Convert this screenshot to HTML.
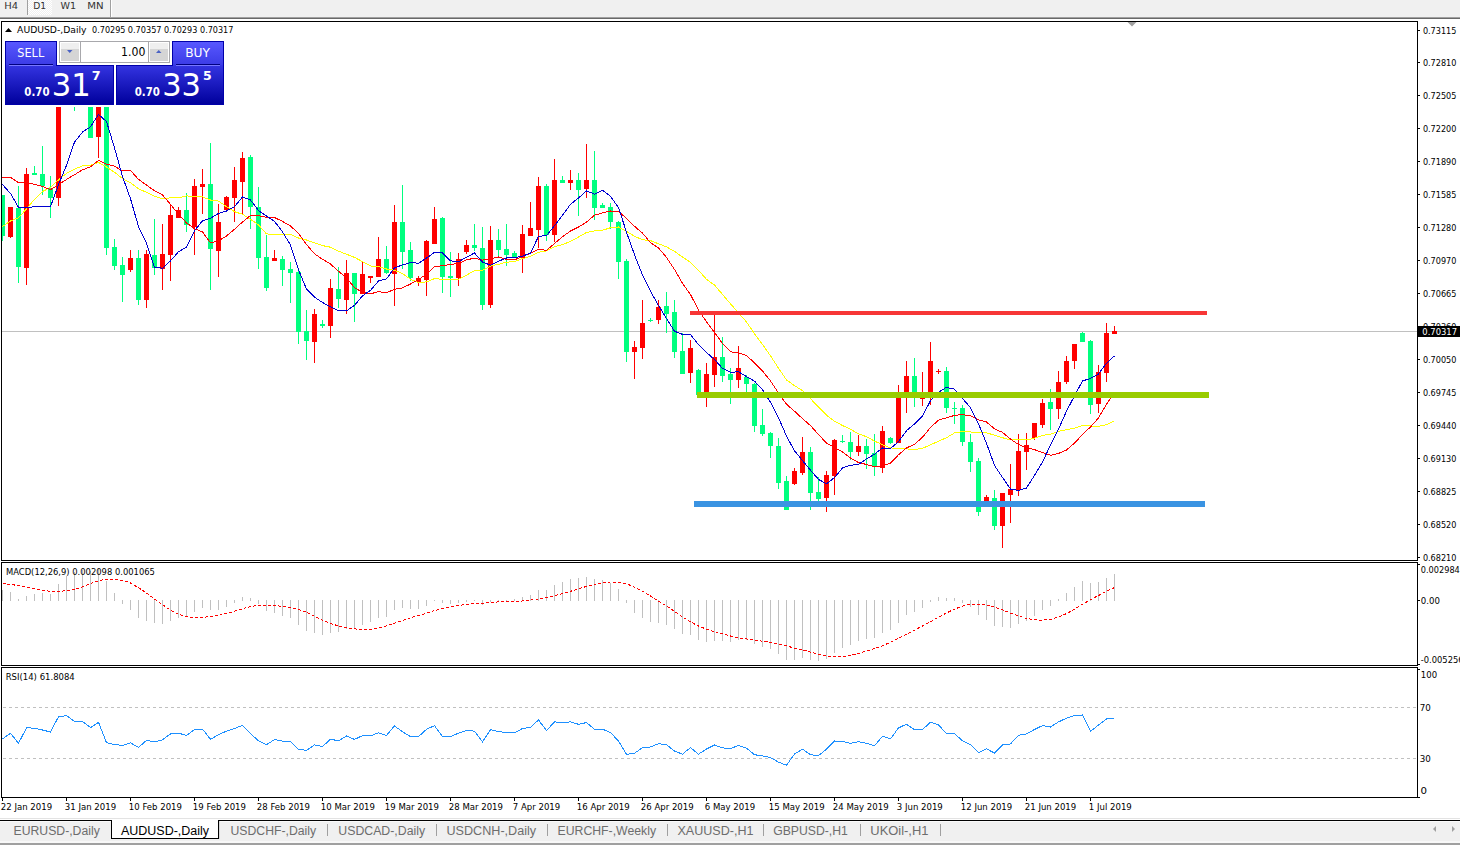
<!DOCTYPE html>
<html><head><meta charset="utf-8"><style>
html,body{margin:0;padding:0;}
body{width:1460px;height:845px;overflow:hidden;background:#f0f0f0;position:relative;font-family:'Liberation Sans',Arial,sans-serif;}
svg{position:absolute;left:0;top:0;}
text{font-family:'Liberation Sans',Arial,sans-serif;white-space:pre;}
</style></head><body>
<svg width="1460" height="845" viewBox="0 0 1460 845">
<defs>
<pattern id="dith" width="2" height="2" patternUnits="userSpaceOnUse"><rect width="2" height="2" fill="#f0f0f0"/><rect width="1" height="1" fill="#ffffff"/><rect x="1" y="1" width="1" height="1" fill="#ffffff"/></pattern>
<linearGradient id="gTop" x1="0" y1="0" x2="0" y2="1"><stop offset="0" stop-color="#5858ff"/><stop offset="1" stop-color="#3b3be6"/></linearGradient>
<linearGradient id="gBot" x1="0" y1="0" x2="0" y2="1"><stop offset="0" stop-color="#3333e0"/><stop offset="1" stop-color="#00009c"/></linearGradient>
<linearGradient id="gBtn" x1="0" y1="0" x2="0" y2="1"><stop offset="0" stop-color="#f2f2f2"/><stop offset="0.45" stop-color="#ebebeb"/><stop offset="0.5" stop-color="#dddddd"/><stop offset="1" stop-color="#d0d0d0"/></linearGradient>
<clipPath id="cMain"><rect x="2" y="22" width="1415" height="538"/></clipPath>
<clipPath id="cMacd"><rect x="2" y="563" width="1415" height="102"/></clipPath>
<clipPath id="cRsi"><rect x="2" y="668" width="1415" height="129"/></clipPath>
</defs>
<!-- toolbar -->
<rect x="28" y="0" width="24" height="15" fill="url(#dith)"/>
<rect x="27" y="0" width="1" height="15" fill="#a0a0a0"/>
<rect x="110" y="0" width="1" height="17" fill="#a0a0a0"/><rect x="111" y="0" width="1" height="17" fill="#ffffff"/>
<text x="4.3" y="9" font-size="9.5" fill="#333" font-weight="normal" style="font-family:'DejaVu Sans',sans-serif" textLength="13.8" lengthAdjust="spacingAndGlyphs">H4</text><text x="33.2" y="9" font-size="9.5" fill="#333" font-weight="normal" style="font-family:'DejaVu Sans',sans-serif" textLength="12.9" lengthAdjust="spacingAndGlyphs">D1</text><text x="60.6" y="9" font-size="9.5" fill="#333" font-weight="normal" style="font-family:'DejaVu Sans',sans-serif" textLength="15.6" lengthAdjust="spacingAndGlyphs">W1</text><text x="87.2" y="9" font-size="9.5" fill="#333" font-weight="normal" style="font-family:'DejaVu Sans',sans-serif" textLength="16.4" lengthAdjust="spacingAndGlyphs">MN</text>
<rect x="0" y="17" width="1460" height="1" fill="#a0a0a0"/>
<rect x="0" y="18" width="1460" height="1" fill="#696969"/>
<rect x="0" y="19" width="1460" height="799" fill="#ffffff"/>
<!-- window borders -->
<rect x="1.5" y="21.5" width="1416" height="539" fill="none" stroke="#000" stroke-width="1"/>
<rect x="1.5" y="562.5" width="1416" height="103" fill="none" stroke="#000" stroke-width="1"/>
<rect x="1.5" y="667.5" width="1416" height="130" fill="none" stroke="#000" stroke-width="1"/>
<!-- main chart -->
<g clip-path="url(#cMain)">
<rect x="2" y="331" width="1415" height="1" fill="#c0c0c0"/>
<g shape-rendering="crispEdges"><rect x="2" y="195" width="1" height="46" fill="#00ff7f"/><rect x="0" y="195" width="5" height="41" fill="#00ff7f"/><rect x="10" y="207" width="1" height="31" fill="#ff0000"/><rect x="8" y="207" width="5" height="30" fill="#ff0000"/><rect x="18" y="186" width="1" height="97" fill="#00ff7f"/><rect x="16" y="208" width="5" height="59" fill="#00ff7f"/><rect x="26" y="168" width="1" height="117" fill="#ff0000"/><rect x="24" y="174" width="5" height="94" fill="#ff0000"/><rect x="34" y="166" width="1" height="9" fill="#00ff7f"/><rect x="32" y="173" width="5" height="2" fill="#00ff7f"/><rect x="42" y="146" width="1" height="49" fill="#00ff7f"/><rect x="40" y="174" width="5" height="12" fill="#00ff7f"/><rect x="50" y="176" width="1" height="42" fill="#00ff7f"/><rect x="48" y="188" width="5" height="10" fill="#00ff7f"/><rect x="58" y="75" width="1" height="131" fill="#ff0000"/><rect x="56" y="83" width="5" height="115" fill="#ff0000"/><rect x="66" y="67" width="1" height="23" fill="#ff0000"/><rect x="64" y="73" width="5" height="10" fill="#ff0000"/><rect x="74" y="66" width="1" height="45" fill="#00ff7f"/><rect x="72" y="73" width="5" height="31" fill="#00ff7f"/><rect x="82" y="96" width="1" height="8" fill="#ff0000"/><rect x="80" y="100" width="5" height="4" fill="#ff0000"/><rect x="90" y="95" width="1" height="43" fill="#00ff7f"/><rect x="88" y="100" width="5" height="38" fill="#00ff7f"/><rect x="98" y="90" width="1" height="68" fill="#ff0000"/><rect x="96" y="99" width="5" height="38" fill="#ff0000"/><rect x="106" y="92" width="1" height="163" fill="#00ff7f"/><rect x="104" y="99" width="5" height="149" fill="#00ff7f"/><rect x="114" y="239" width="1" height="31" fill="#00ff7f"/><rect x="112" y="247" width="5" height="19" fill="#00ff7f"/><rect x="122" y="257" width="1" height="45" fill="#00ff7f"/><rect x="120" y="265" width="5" height="10" fill="#00ff7f"/><rect x="130" y="250" width="1" height="22" fill="#ff0000"/><rect x="128" y="258" width="5" height="12" fill="#ff0000"/><rect x="138" y="250" width="1" height="55" fill="#00ff7f"/><rect x="136" y="258" width="5" height="42" fill="#00ff7f"/><rect x="146" y="250" width="1" height="58" fill="#ff0000"/><rect x="144" y="254" width="5" height="46" fill="#ff0000"/><rect x="154" y="219" width="1" height="56" fill="#00ff7f"/><rect x="152" y="255" width="5" height="13" fill="#00ff7f"/><rect x="162" y="224" width="1" height="66" fill="#ff0000"/><rect x="160" y="254" width="5" height="15" fill="#ff0000"/><rect x="170" y="205" width="1" height="76" fill="#ff0000"/><rect x="168" y="215" width="5" height="40" fill="#ff0000"/><rect x="178" y="207" width="1" height="11" fill="#ff0000"/><rect x="176" y="210" width="5" height="8" fill="#ff0000"/><rect x="186" y="193" width="1" height="39" fill="#00ff7f"/><rect x="184" y="210" width="5" height="15" fill="#00ff7f"/><rect x="194" y="179" width="1" height="76" fill="#ff0000"/><rect x="192" y="186" width="5" height="41" fill="#ff0000"/><rect x="202" y="169" width="1" height="45" fill="#ff0000"/><rect x="200" y="184" width="5" height="3" fill="#ff0000"/><rect x="210" y="143" width="1" height="147" fill="#00ff7f"/><rect x="208" y="184" width="5" height="65" fill="#00ff7f"/><rect x="218" y="204" width="1" height="73" fill="#ff0000"/><rect x="216" y="222" width="5" height="29" fill="#ff0000"/><rect x="226" y="196" width="1" height="16" fill="#ff0000"/><rect x="224" y="197" width="5" height="13" fill="#ff0000"/><rect x="234" y="167" width="1" height="55" fill="#ff0000"/><rect x="232" y="180" width="5" height="18" fill="#ff0000"/><rect x="242" y="152" width="1" height="62" fill="#ff0000"/><rect x="240" y="158" width="5" height="24" fill="#ff0000"/><rect x="250" y="155" width="1" height="74" fill="#00ff7f"/><rect x="248" y="157" width="5" height="50" fill="#00ff7f"/><rect x="258" y="187" width="1" height="82" fill="#00ff7f"/><rect x="256" y="207" width="5" height="51" fill="#00ff7f"/><rect x="266" y="235" width="1" height="56" fill="#00ff7f"/><rect x="264" y="257" width="5" height="31" fill="#00ff7f"/><rect x="274" y="250" width="1" height="11" fill="#ff0000"/><rect x="272" y="258" width="5" height="3" fill="#ff0000"/><rect x="282" y="256" width="1" height="30" fill="#00ff7f"/><rect x="280" y="259" width="5" height="11" fill="#00ff7f"/><rect x="290" y="262" width="1" height="41" fill="#00ff7f"/><rect x="288" y="269" width="5" height="4" fill="#00ff7f"/><rect x="298" y="271" width="1" height="73" fill="#00ff7f"/><rect x="296" y="272" width="5" height="60" fill="#00ff7f"/><rect x="306" y="310" width="1" height="50" fill="#00ff7f"/><rect x="304" y="331" width="5" height="10" fill="#00ff7f"/><rect x="314" y="309" width="1" height="54" fill="#ff0000"/><rect x="312" y="314" width="5" height="28" fill="#ff0000"/><rect x="322" y="320" width="1" height="8" fill="#00ff7f"/><rect x="320" y="324" width="5" height="2" fill="#00ff7f"/><rect x="330" y="279" width="1" height="59" fill="#ff0000"/><rect x="328" y="288" width="5" height="38" fill="#ff0000"/><rect x="338" y="267" width="1" height="41" fill="#00ff7f"/><rect x="336" y="289" width="5" height="10" fill="#00ff7f"/><rect x="346" y="260" width="1" height="54" fill="#ff0000"/><rect x="344" y="273" width="5" height="27" fill="#ff0000"/><rect x="354" y="273" width="1" height="49" fill="#00ff7f"/><rect x="352" y="273" width="5" height="21" fill="#00ff7f"/><rect x="362" y="262" width="1" height="32" fill="#ff0000"/><rect x="360" y="274" width="5" height="20" fill="#ff0000"/><rect x="370" y="276" width="1" height="7" fill="#ff0000"/><rect x="368" y="276" width="5" height="2" fill="#ff0000"/><rect x="378" y="237" width="1" height="40" fill="#ff0000"/><rect x="376" y="259" width="5" height="18" fill="#ff0000"/><rect x="386" y="246" width="1" height="28" fill="#00ff7f"/><rect x="384" y="259" width="5" height="14" fill="#00ff7f"/><rect x="394" y="205" width="1" height="101" fill="#ff0000"/><rect x="392" y="222" width="5" height="52" fill="#ff0000"/><rect x="402" y="185" width="1" height="84" fill="#00ff7f"/><rect x="400" y="222" width="5" height="30" fill="#00ff7f"/><rect x="410" y="242" width="1" height="39" fill="#00ff7f"/><rect x="408" y="250" width="5" height="28" fill="#00ff7f"/><rect x="418" y="276" width="1" height="10" fill="#ff0000"/><rect x="416" y="278" width="5" height="4" fill="#ff0000"/><rect x="426" y="240" width="1" height="56" fill="#ff0000"/><rect x="424" y="241" width="5" height="39" fill="#ff0000"/><rect x="434" y="207" width="1" height="37" fill="#ff0000"/><rect x="432" y="219" width="5" height="25" fill="#ff0000"/><rect x="442" y="217" width="1" height="76" fill="#00ff7f"/><rect x="440" y="218" width="5" height="59" fill="#00ff7f"/><rect x="450" y="252" width="1" height="45" fill="#00ff7f"/><rect x="448" y="276" width="5" height="2" fill="#00ff7f"/><rect x="458" y="253" width="1" height="33" fill="#ff0000"/><rect x="456" y="259" width="5" height="19" fill="#ff0000"/><rect x="466" y="240" width="1" height="14" fill="#ff0000"/><rect x="464" y="245" width="5" height="7" fill="#ff0000"/><rect x="474" y="224" width="1" height="27" fill="#00ff7f"/><rect x="472" y="245" width="5" height="3" fill="#00ff7f"/><rect x="482" y="227" width="1" height="83" fill="#00ff7f"/><rect x="480" y="248" width="5" height="57" fill="#00ff7f"/><rect x="490" y="226" width="1" height="82" fill="#ff0000"/><rect x="488" y="240" width="5" height="65" fill="#ff0000"/><rect x="498" y="229" width="1" height="29" fill="#00ff7f"/><rect x="496" y="240" width="5" height="10" fill="#00ff7f"/><rect x="506" y="224" width="1" height="42" fill="#00ff7f"/><rect x="504" y="249" width="5" height="6" fill="#00ff7f"/><rect x="514" y="251" width="1" height="7" fill="#00ff7f"/><rect x="512" y="253" width="5" height="4" fill="#00ff7f"/><rect x="522" y="225" width="1" height="48" fill="#ff0000"/><rect x="520" y="234" width="5" height="24" fill="#ff0000"/><rect x="530" y="202" width="1" height="34" fill="#ff0000"/><rect x="528" y="228" width="5" height="8" fill="#ff0000"/><rect x="538" y="177" width="1" height="71" fill="#ff0000"/><rect x="536" y="186" width="5" height="44" fill="#ff0000"/><rect x="546" y="184" width="1" height="57" fill="#00ff7f"/><rect x="544" y="186" width="5" height="49" fill="#00ff7f"/><rect x="554" y="159" width="1" height="83" fill="#ff0000"/><rect x="552" y="180" width="5" height="55" fill="#ff0000"/><rect x="562" y="176" width="1" height="7" fill="#00ff7f"/><rect x="560" y="180" width="5" height="3" fill="#00ff7f"/><rect x="570" y="170" width="1" height="20" fill="#ff0000"/><rect x="568" y="180" width="5" height="3" fill="#ff0000"/><rect x="578" y="173" width="1" height="43" fill="#00ff7f"/><rect x="576" y="180" width="5" height="10" fill="#00ff7f"/><rect x="586" y="144" width="1" height="54" fill="#ff0000"/><rect x="584" y="180" width="5" height="9" fill="#ff0000"/><rect x="594" y="151" width="1" height="69" fill="#00ff7f"/><rect x="592" y="180" width="5" height="28" fill="#00ff7f"/><rect x="602" y="203" width="1" height="5" fill="#00ff7f"/><rect x="600" y="205" width="5" height="3" fill="#00ff7f"/><rect x="610" y="203" width="1" height="26" fill="#00ff7f"/><rect x="608" y="207" width="5" height="15" fill="#00ff7f"/><rect x="618" y="221" width="1" height="58" fill="#00ff7f"/><rect x="616" y="222" width="5" height="40" fill="#00ff7f"/><rect x="626" y="259" width="1" height="103" fill="#00ff7f"/><rect x="624" y="261" width="5" height="91" fill="#00ff7f"/><rect x="634" y="341" width="1" height="38" fill="#ff0000"/><rect x="632" y="347" width="5" height="5" fill="#ff0000"/><rect x="642" y="300" width="1" height="59" fill="#ff0000"/><rect x="640" y="323" width="5" height="25" fill="#ff0000"/><rect x="650" y="318" width="1" height="4" fill="#00ff7f"/><rect x="648" y="320" width="5" height="1" fill="#00ff7f"/><rect x="658" y="300" width="1" height="24" fill="#ff0000"/><rect x="656" y="307" width="5" height="13" fill="#ff0000"/><rect x="666" y="292" width="1" height="41" fill="#00ff7f"/><rect x="664" y="306" width="5" height="8" fill="#00ff7f"/><rect x="674" y="300" width="1" height="58" fill="#00ff7f"/><rect x="672" y="312" width="5" height="40" fill="#00ff7f"/><rect x="682" y="333" width="1" height="41" fill="#00ff7f"/><rect x="680" y="351" width="5" height="23" fill="#00ff7f"/><rect x="690" y="340" width="1" height="43" fill="#ff0000"/><rect x="688" y="348" width="5" height="25" fill="#ff0000"/><rect x="698" y="369" width="1" height="26" fill="#00ff7f"/><rect x="696" y="370" width="5" height="25" fill="#00ff7f"/><rect x="706" y="363" width="1" height="44" fill="#ff0000"/><rect x="704" y="374" width="5" height="18" fill="#ff0000"/><rect x="714" y="312" width="1" height="75" fill="#ff0000"/><rect x="712" y="357" width="5" height="18" fill="#ff0000"/><rect x="722" y="337" width="1" height="45" fill="#00ff7f"/><rect x="720" y="357" width="5" height="19" fill="#00ff7f"/><rect x="730" y="368" width="1" height="36" fill="#00ff7f"/><rect x="728" y="374" width="5" height="6" fill="#00ff7f"/><rect x="738" y="346" width="1" height="42" fill="#ff0000"/><rect x="736" y="368" width="5" height="12" fill="#ff0000"/><rect x="746" y="375" width="1" height="17" fill="#00ff7f"/><rect x="744" y="377" width="5" height="7" fill="#00ff7f"/><rect x="754" y="383" width="1" height="49" fill="#00ff7f"/><rect x="752" y="384" width="5" height="42" fill="#00ff7f"/><rect x="762" y="409" width="1" height="27" fill="#00ff7f"/><rect x="760" y="425" width="5" height="9" fill="#00ff7f"/><rect x="770" y="432" width="1" height="26" fill="#00ff7f"/><rect x="768" y="433" width="5" height="13" fill="#00ff7f"/><rect x="778" y="438" width="1" height="51" fill="#00ff7f"/><rect x="776" y="446" width="5" height="37" fill="#00ff7f"/><rect x="786" y="476" width="1" height="34" fill="#00ff7f"/><rect x="784" y="481" width="5" height="29" fill="#00ff7f"/><rect x="794" y="468" width="1" height="17" fill="#ff0000"/><rect x="792" y="471" width="5" height="13" fill="#ff0000"/><rect x="802" y="437" width="1" height="38" fill="#ff0000"/><rect x="800" y="452" width="5" height="21" fill="#ff0000"/><rect x="810" y="447" width="1" height="63" fill="#00ff7f"/><rect x="808" y="452" width="5" height="41" fill="#00ff7f"/><rect x="818" y="477" width="1" height="24" fill="#00ff7f"/><rect x="816" y="492" width="5" height="7" fill="#00ff7f"/><rect x="826" y="471" width="1" height="41" fill="#ff0000"/><rect x="824" y="475" width="5" height="23" fill="#ff0000"/><rect x="834" y="439" width="1" height="56" fill="#ff0000"/><rect x="832" y="440" width="5" height="36" fill="#ff0000"/><rect x="842" y="435" width="1" height="8" fill="#00ff7f"/><rect x="840" y="441" width="5" height="1" fill="#00ff7f"/><rect x="850" y="432" width="1" height="28" fill="#00ff7f"/><rect x="848" y="442" width="5" height="10" fill="#00ff7f"/><rect x="858" y="435" width="1" height="21" fill="#ff0000"/><rect x="856" y="446" width="5" height="6" fill="#ff0000"/><rect x="866" y="439" width="1" height="30" fill="#00ff7f"/><rect x="864" y="446" width="5" height="8" fill="#00ff7f"/><rect x="874" y="434" width="1" height="42" fill="#00ff7f"/><rect x="872" y="453" width="5" height="13" fill="#00ff7f"/><rect x="882" y="426" width="1" height="47" fill="#ff0000"/><rect x="880" y="431" width="5" height="37" fill="#ff0000"/><rect x="890" y="437" width="1" height="7" fill="#00ff7f"/><rect x="888" y="438" width="5" height="5" fill="#00ff7f"/><rect x="898" y="385" width="1" height="58" fill="#ff0000"/><rect x="896" y="395" width="5" height="48" fill="#ff0000"/><rect x="906" y="361" width="1" height="52" fill="#ff0000"/><rect x="904" y="376" width="5" height="22" fill="#ff0000"/><rect x="914" y="358" width="1" height="49" fill="#00ff7f"/><rect x="912" y="376" width="5" height="22" fill="#00ff7f"/><rect x="922" y="372" width="1" height="34" fill="#ff0000"/><rect x="920" y="398" width="5" height="1" fill="#ff0000"/><rect x="930" y="342" width="1" height="63" fill="#ff0000"/><rect x="928" y="361" width="5" height="37" fill="#ff0000"/><rect x="938" y="369" width="1" height="5" fill="#ff0000"/><rect x="936" y="371" width="5" height="1" fill="#ff0000"/><rect x="946" y="367" width="1" height="46" fill="#00ff7f"/><rect x="944" y="371" width="5" height="37" fill="#00ff7f"/><rect x="954" y="402" width="1" height="22" fill="#00ff7f"/><rect x="952" y="408" width="5" height="1" fill="#00ff7f"/><rect x="962" y="405" width="1" height="41" fill="#00ff7f"/><rect x="960" y="408" width="5" height="34" fill="#00ff7f"/><rect x="970" y="434" width="1" height="38" fill="#00ff7f"/><rect x="968" y="442" width="5" height="20" fill="#00ff7f"/><rect x="978" y="458" width="1" height="58" fill="#00ff7f"/><rect x="976" y="461" width="5" height="51" fill="#00ff7f"/><rect x="986" y="495" width="1" height="8" fill="#ff0000"/><rect x="984" y="497" width="5" height="6" fill="#ff0000"/><rect x="994" y="490" width="1" height="40" fill="#00ff7f"/><rect x="992" y="498" width="5" height="28" fill="#00ff7f"/><rect x="1002" y="493" width="1" height="55" fill="#ff0000"/><rect x="1000" y="493" width="5" height="33" fill="#ff0000"/><rect x="1010" y="464" width="1" height="59" fill="#ff0000"/><rect x="1008" y="489" width="5" height="6" fill="#ff0000"/><rect x="1018" y="434" width="1" height="62" fill="#ff0000"/><rect x="1016" y="451" width="5" height="39" fill="#ff0000"/><rect x="1026" y="433" width="1" height="37" fill="#ff0000"/><rect x="1024" y="445" width="5" height="7" fill="#ff0000"/><rect x="1034" y="423" width="1" height="17" fill="#ff0000"/><rect x="1032" y="423" width="5" height="15" fill="#ff0000"/><rect x="1042" y="399" width="1" height="29" fill="#ff0000"/><rect x="1040" y="403" width="5" height="22" fill="#ff0000"/><rect x="1050" y="389" width="1" height="41" fill="#00ff7f"/><rect x="1048" y="402" width="5" height="7" fill="#00ff7f"/><rect x="1058" y="371" width="1" height="48" fill="#ff0000"/><rect x="1056" y="382" width="5" height="27" fill="#ff0000"/><rect x="1066" y="356" width="1" height="28" fill="#ff0000"/><rect x="1064" y="361" width="5" height="21" fill="#ff0000"/><rect x="1074" y="344" width="1" height="25" fill="#ff0000"/><rect x="1072" y="344" width="5" height="17" fill="#ff0000"/><rect x="1082" y="332" width="1" height="10" fill="#00ff7f"/><rect x="1080" y="333" width="5" height="9" fill="#00ff7f"/><rect x="1090" y="340" width="1" height="74" fill="#00ff7f"/><rect x="1088" y="341" width="5" height="64" fill="#00ff7f"/><rect x="1098" y="365" width="1" height="48" fill="#ff0000"/><rect x="1096" y="372" width="5" height="32" fill="#ff0000"/><rect x="1106" y="323" width="1" height="59" fill="#ff0000"/><rect x="1104" y="333" width="5" height="40" fill="#ff0000"/><rect x="1114" y="326" width="1" height="8" fill="#ff0000"/><rect x="1112" y="331" width="5" height="3" fill="#ff0000"/></g>
<polyline points="-5.5,230.7 2.5,226.6 10.5,221.0 18.5,217.7 26.5,208.9 34.5,199.3 42.5,191.6 50.5,187.3 58.5,179.9 66.5,173.4 74.5,169.2 82.5,165.9 90.5,165.1 98.5,162.5 106.5,167.0 114.5,172.3 122.5,178.5 130.5,182.7 138.5,188.8 146.5,192.3 154.5,196.1 162.5,198.8 170.5,197.8 178.5,197.9 186.5,195.9 194.5,196.5 202.5,196.9 210.5,200.0 218.5,201.1 226.5,206.6 234.5,211.7 242.5,214.3 250.5,219.2 258.5,224.9 266.5,233.9 274.5,234.4 282.5,234.6 290.5,234.5 298.5,238.0 306.5,240.0 314.5,242.8 322.5,245.6 330.5,247.2 338.5,251.2 346.5,254.2 354.5,257.4 362.5,261.6 370.5,266.0 378.5,266.5 386.5,269.0 394.5,270.2 402.5,273.6 410.5,279.3 418.5,282.7 426.5,281.9 434.5,278.6 442.5,279.4 450.5,279.8 458.5,279.2 466.5,275.1 474.5,270.7 482.5,270.2 490.5,266.1 498.5,264.3 506.5,262.2 514.5,261.5 522.5,258.6 530.5,256.4 538.5,252.2 546.5,251.0 554.5,246.6 562.5,244.7 570.5,241.3 578.5,237.1 586.5,232.4 594.5,230.9 602.5,230.3 610.5,227.7 618.5,227.0 626.5,231.4 634.5,236.2 642.5,239.8 650.5,240.6 658.5,243.8 666.5,246.8 674.5,251.4 682.5,257.0 690.5,262.4 698.5,270.3 706.5,279.3 714.5,285.1 722.5,294.4 730.5,303.8 738.5,312.8 746.5,322.0 754.5,333.7 762.5,344.4 770.5,355.8 778.5,368.2 786.5,379.9 794.5,385.6 802.5,390.6 810.5,398.7 818.5,407.2 826.5,415.2 834.5,421.2 842.5,425.5 850.5,429.2 858.5,433.9 866.5,436.7 874.5,441.1 882.5,444.7 890.5,447.9 898.5,448.6 906.5,448.9 914.5,449.6 922.5,448.3 930.5,444.8 938.5,441.3 946.5,437.7 954.5,432.9 962.5,431.5 970.5,432.0 978.5,432.9 986.5,432.8 994.5,435.2 1002.5,437.7 1010.5,440.0 1018.5,439.9 1026.5,439.8 1034.5,438.3 1042.5,435.3 1050.5,434.3 1058.5,431.4 1066.5,429.8 1074.5,428.2 1082.5,425.5 1090.5,425.9 1098.5,426.4 1106.5,424.6 1114.5,420.9" fill="none" stroke="#ffff00" stroke-width="1" shape-rendering="crispEdges"/><polyline points="-5.5,177.6 2.5,177.5 10.5,177.4 18.5,182.7 26.5,182.8 34.5,184.2 42.5,186.5 50.5,189.7 58.5,184.6 66.5,179.5 74.5,174.7 82.5,169.9 90.5,166.8 98.5,160.5 106.5,164.1 114.5,166.2 122.5,171.0 130.5,170.4 138.5,179.4 146.5,185.0 154.5,190.8 162.5,194.9 170.5,204.4 178.5,214.2 186.5,222.9 194.5,228.7 202.5,232.0 210.5,242.7 218.5,240.9 226.5,236.0 234.5,229.2 242.5,222.0 250.5,215.4 258.5,215.7 266.5,217.2 274.5,217.5 282.5,221.4 290.5,225.9 298.5,233.5 306.5,244.5 314.5,253.8 322.5,259.3 330.5,264.0 338.5,271.3 346.5,277.9 354.5,287.6 362.5,292.4 370.5,293.8 378.5,291.7 386.5,292.8 394.5,289.3 402.5,287.9 410.5,284.0 418.5,279.5 426.5,274.2 434.5,266.6 442.5,265.8 450.5,264.4 458.5,263.4 466.5,259.9 474.5,258.1 482.5,260.1 490.5,258.7 498.5,257.0 506.5,259.4 514.5,259.8 522.5,256.7 530.5,253.1 538.5,249.2 546.5,250.4 554.5,243.5 562.5,236.7 570.5,231.0 578.5,227.0 586.5,222.1 594.5,215.2 602.5,212.9 610.5,211.0 618.5,211.5 626.5,218.2 634.5,226.3 642.5,233.1 650.5,242.7 658.5,247.9 666.5,257.4 674.5,269.4 682.5,283.3 690.5,294.6 698.5,310.0 706.5,321.8 714.5,332.5 722.5,343.4 730.5,351.8 738.5,353.0 746.5,355.6 754.5,362.9 762.5,371.0 770.5,380.9 778.5,393.0 786.5,404.3 794.5,411.2 802.5,418.6 810.5,425.6 818.5,434.6 826.5,443.0 834.5,447.6 842.5,452.0 850.5,458.0 858.5,462.5 866.5,464.5 874.5,466.8 882.5,465.8 890.5,463.0 898.5,454.8 906.5,448.0 914.5,444.2 922.5,437.3 930.5,427.5 938.5,420.1 946.5,417.8 954.5,415.4 962.5,414.6 970.5,415.8 978.5,419.8 986.5,422.0 994.5,428.8 1002.5,432.4 1010.5,439.1 1018.5,444.5 1026.5,447.8 1034.5,449.6 1042.5,452.6 1050.5,455.3 1058.5,453.4 1066.5,450.0 1074.5,443.1 1082.5,434.5 1090.5,426.9 1098.5,417.9 1106.5,404.2 1114.5,392.6" fill="none" stroke="#ff0000" stroke-width="1" shape-rendering="crispEdges"/><polyline points="-5.5,172.7 2.5,184.5 10.5,193.5 18.5,207.4 26.5,207.7 34.5,206.7 42.5,206.6 50.5,206.6 58.5,184.6 66.5,165.4 74.5,142.1 82.5,132.1 90.5,126.8 98.5,114.4 106.5,121.6 114.5,147.8 122.5,176.6 130.5,198.7 138.5,226.6 146.5,243.2 154.5,267.3 162.5,268.2 170.5,260.9 178.5,251.7 186.5,247.0 194.5,230.8 202.5,220.8 210.5,218.2 218.5,213.5 226.5,211.0 234.5,206.7 242.5,197.0 250.5,200.0 258.5,210.6 266.5,216.1 274.5,221.4 282.5,231.8 290.5,245.1 298.5,269.9 306.5,289.0 314.5,297.1 322.5,302.5 330.5,306.7 338.5,310.8 346.5,310.8 354.5,305.4 362.5,295.8 370.5,290.4 378.5,281.0 386.5,278.8 394.5,267.9 402.5,264.9 410.5,262.6 418.5,263.2 426.5,258.1 434.5,252.3 442.5,252.8 450.5,260.8 458.5,261.8 466.5,257.2 474.5,253.0 482.5,262.1 490.5,265.1 498.5,261.2 506.5,258.0 514.5,257.7 522.5,256.1 530.5,253.2 538.5,236.3 546.5,235.7 554.5,225.7 562.5,215.3 570.5,204.3 578.5,197.9 586.5,191.0 594.5,194.1 602.5,190.2 610.5,196.3 618.5,207.6 626.5,232.2 634.5,254.7 642.5,275.2 650.5,291.3 658.5,305.5 666.5,318.5 674.5,331.2 682.5,334.4 690.5,334.5 698.5,344.8 706.5,352.4 714.5,359.5 722.5,368.4 730.5,372.4 738.5,371.7 746.5,376.7 754.5,381.1 762.5,389.7 770.5,402.3 778.5,417.6 786.5,436.1 794.5,450.8 802.5,460.6 810.5,470.2 818.5,479.4 826.5,483.7 834.5,477.6 842.5,467.9 850.5,465.3 858.5,464.4 866.5,458.9 874.5,454.2 882.5,448.0 890.5,448.4 898.5,441.7 906.5,430.7 914.5,423.9 922.5,415.8 930.5,400.7 938.5,392.2 946.5,387.3 954.5,389.2 962.5,398.6 970.5,407.6 978.5,423.9 986.5,443.3 994.5,465.4 1002.5,477.5 1010.5,489.0 1018.5,490.4 1026.5,488.0 1034.5,475.3 1042.5,461.9 1050.5,445.2 1058.5,429.3 1066.5,411.1 1074.5,395.8 1082.5,381.0 1090.5,378.4 1098.5,374.0 1106.5,363.2 1114.5,355.9" fill="none" stroke="#0000d0" stroke-width="1" shape-rendering="crispEdges"/>
<rect x="690" y="311" width="517" height="4" fill="#f73636"/>
<rect x="697" y="392" width="512" height="6" fill="#99cc00"/>
<rect x="694" y="501" width="511" height="6" fill="#3a93e2"/>
<polygon points="1127.5,22 1136.5,22 1132,26.5" fill="#a0a0a0"/>
</g>
<!-- MACD -->
<g clip-path="url(#cMacd)"><g shape-rendering="crispEdges"><rect x="2" y="590" width="1" height="11" fill="#c0c0c0"/><rect x="10" y="592" width="1" height="9" fill="#c0c0c0"/><rect x="18" y="599" width="1" height="2" fill="#c0c0c0"/><rect x="26" y="596" width="1" height="5" fill="#c0c0c0"/><rect x="34" y="594" width="1" height="7" fill="#c0c0c0"/><rect x="42" y="593" width="1" height="8" fill="#c0c0c0"/><rect x="50" y="594" width="1" height="7" fill="#c0c0c0"/><rect x="58" y="584" width="1" height="17" fill="#c0c0c0"/><rect x="66" y="576" width="1" height="25" fill="#c0c0c0"/><rect x="74" y="572" width="1" height="29" fill="#c0c0c0"/><rect x="82" y="570" width="1" height="31" fill="#c0c0c0"/><rect x="90" y="571" width="1" height="30" fill="#c0c0c0"/><rect x="98" y="569" width="1" height="32" fill="#c0c0c0"/><rect x="106" y="581" width="1" height="20" fill="#c0c0c0"/><rect x="114" y="593" width="1" height="8" fill="#c0c0c0"/><rect x="122" y="600" width="1" height="4" fill="#c0c0c0"/><rect x="130" y="600" width="1" height="10" fill="#c0c0c0"/><rect x="138" y="600" width="1" height="18" fill="#c0c0c0"/><rect x="146" y="600" width="1" height="21" fill="#c0c0c0"/><rect x="154" y="600" width="1" height="23" fill="#c0c0c0"/><rect x="162" y="600" width="1" height="24" fill="#c0c0c0"/><rect x="170" y="600" width="1" height="21" fill="#c0c0c0"/><rect x="178" y="600" width="1" height="18" fill="#c0c0c0"/><rect x="186" y="600" width="1" height="16" fill="#c0c0c0"/><rect x="194" y="600" width="1" height="12" fill="#c0c0c0"/><rect x="202" y="600" width="1" height="8" fill="#c0c0c0"/><rect x="210" y="600" width="1" height="10" fill="#c0c0c0"/><rect x="218" y="600" width="1" height="10" fill="#c0c0c0"/><rect x="226" y="600" width="1" height="7" fill="#c0c0c0"/><rect x="234" y="600" width="1" height="3" fill="#c0c0c0"/><rect x="242" y="597" width="1" height="4" fill="#c0c0c0"/><rect x="250" y="598" width="1" height="3" fill="#c0c0c0"/><rect x="258" y="600" width="1" height="4" fill="#c0c0c0"/><rect x="266" y="600" width="1" height="11" fill="#c0c0c0"/><rect x="274" y="600" width="1" height="13" fill="#c0c0c0"/><rect x="282" y="600" width="1" height="16" fill="#c0c0c0"/><rect x="290" y="600" width="1" height="18" fill="#c0c0c0"/><rect x="298" y="600" width="1" height="25" fill="#c0c0c0"/><rect x="306" y="600" width="1" height="31" fill="#c0c0c0"/><rect x="314" y="600" width="1" height="33" fill="#c0c0c0"/><rect x="322" y="600" width="1" height="35" fill="#c0c0c0"/><rect x="330" y="600" width="1" height="33" fill="#c0c0c0"/><rect x="338" y="600" width="1" height="32" fill="#c0c0c0"/><rect x="346" y="600" width="1" height="29" fill="#c0c0c0"/><rect x="354" y="600" width="1" height="28" fill="#c0c0c0"/><rect x="362" y="600" width="1" height="25" fill="#c0c0c0"/><rect x="370" y="600" width="1" height="22" fill="#c0c0c0"/><rect x="378" y="600" width="1" height="18" fill="#c0c0c0"/><rect x="386" y="600" width="1" height="17" fill="#c0c0c0"/><rect x="394" y="600" width="1" height="10" fill="#c0c0c0"/><rect x="402" y="600" width="1" height="8" fill="#c0c0c0"/><rect x="410" y="600" width="1" height="9" fill="#c0c0c0"/><rect x="418" y="600" width="1" height="9" fill="#c0c0c0"/><rect x="426" y="600" width="1" height="6" fill="#c0c0c0"/><rect x="434" y="600" width="1" height="1" fill="#c0c0c0"/><rect x="442" y="600" width="1" height="3" fill="#c0c0c0"/><rect x="450" y="600" width="1" height="4" fill="#c0c0c0"/><rect x="458" y="600" width="1" height="3" fill="#c0c0c0"/><rect x="466" y="600" width="1" height="2" fill="#c0c0c0"/><rect x="474" y="600" width="1" height="1" fill="#c0c0c0"/><rect x="482" y="600" width="1" height="5" fill="#c0c0c0"/><rect x="490" y="600" width="1" height="2" fill="#c0c0c0"/><rect x="498" y="600" width="1" height="1" fill="#c0c0c0"/><rect x="506" y="600" width="1" height="1" fill="#c0c0c0"/><rect x="514" y="599" width="1" height="2" fill="#c0c0c0"/><rect x="522" y="597" width="1" height="4" fill="#c0c0c0"/><rect x="530" y="595" width="1" height="6" fill="#c0c0c0"/><rect x="538" y="590" width="1" height="11" fill="#c0c0c0"/><rect x="546" y="590" width="1" height="11" fill="#c0c0c0"/><rect x="554" y="585" width="1" height="16" fill="#c0c0c0"/><rect x="562" y="582" width="1" height="19" fill="#c0c0c0"/><rect x="570" y="579" width="1" height="22" fill="#c0c0c0"/><rect x="578" y="578" width="1" height="23" fill="#c0c0c0"/><rect x="586" y="577" width="1" height="24" fill="#c0c0c0"/><rect x="594" y="579" width="1" height="22" fill="#c0c0c0"/><rect x="602" y="580" width="1" height="21" fill="#c0c0c0"/><rect x="610" y="583" width="1" height="18" fill="#c0c0c0"/><rect x="618" y="589" width="1" height="12" fill="#c0c0c0"/><rect x="626" y="600" width="1" height="3" fill="#c0c0c0"/><rect x="634" y="600" width="1" height="13" fill="#c0c0c0"/><rect x="642" y="600" width="1" height="18" fill="#c0c0c0"/><rect x="650" y="600" width="1" height="22" fill="#c0c0c0"/><rect x="658" y="600" width="1" height="23" fill="#c0c0c0"/><rect x="666" y="600" width="1" height="25" fill="#c0c0c0"/><rect x="674" y="600" width="1" height="29" fill="#c0c0c0"/><rect x="682" y="600" width="1" height="34" fill="#c0c0c0"/><rect x="690" y="600" width="1" height="35" fill="#c0c0c0"/><rect x="698" y="600" width="1" height="40" fill="#c0c0c0"/><rect x="706" y="600" width="1" height="42" fill="#c0c0c0"/><rect x="714" y="600" width="1" height="41" fill="#c0c0c0"/><rect x="722" y="600" width="1" height="41" fill="#c0c0c0"/><rect x="730" y="600" width="1" height="42" fill="#c0c0c0"/><rect x="738" y="600" width="1" height="40" fill="#c0c0c0"/><rect x="746" y="600" width="1" height="40" fill="#c0c0c0"/><rect x="754" y="600" width="1" height="44" fill="#c0c0c0"/><rect x="762" y="600" width="1" height="47" fill="#c0c0c0"/><rect x="770" y="600" width="1" height="49" fill="#c0c0c0"/><rect x="778" y="600" width="1" height="54" fill="#c0c0c0"/><rect x="786" y="600" width="1" height="60" fill="#c0c0c0"/><rect x="794" y="600" width="1" height="60" fill="#c0c0c0"/><rect x="802" y="600" width="1" height="58" fill="#c0c0c0"/><rect x="810" y="600" width="1" height="60" fill="#c0c0c0"/><rect x="818" y="600" width="1" height="61" fill="#c0c0c0"/><rect x="826" y="600" width="1" height="59" fill="#c0c0c0"/><rect x="834" y="600" width="1" height="53" fill="#c0c0c0"/><rect x="842" y="600" width="1" height="48" fill="#c0c0c0"/><rect x="850" y="600" width="1" height="45" fill="#c0c0c0"/><rect x="858" y="600" width="1" height="41" fill="#c0c0c0"/><rect x="866" y="600" width="1" height="39" fill="#c0c0c0"/><rect x="874" y="600" width="1" height="38" fill="#c0c0c0"/><rect x="882" y="600" width="1" height="33" fill="#c0c0c0"/><rect x="890" y="600" width="1" height="30" fill="#c0c0c0"/><rect x="898" y="600" width="1" height="23" fill="#c0c0c0"/><rect x="906" y="600" width="1" height="15" fill="#c0c0c0"/><rect x="914" y="600" width="1" height="12" fill="#c0c0c0"/><rect x="922" y="600" width="1" height="8" fill="#c0c0c0"/><rect x="930" y="600" width="1" height="2" fill="#c0c0c0"/><rect x="938" y="597" width="1" height="4" fill="#c0c0c0"/><rect x="946" y="598" width="1" height="3" fill="#c0c0c0"/><rect x="954" y="598" width="1" height="3" fill="#c0c0c0"/><rect x="962" y="600" width="1" height="3" fill="#c0c0c0"/><rect x="970" y="600" width="1" height="7" fill="#c0c0c0"/><rect x="978" y="600" width="1" height="15" fill="#c0c0c0"/><rect x="986" y="600" width="1" height="20" fill="#c0c0c0"/><rect x="994" y="600" width="1" height="26" fill="#c0c0c0"/><rect x="1002" y="600" width="1" height="27" fill="#c0c0c0"/><rect x="1010" y="600" width="1" height="28" fill="#c0c0c0"/><rect x="1018" y="600" width="1" height="24" fill="#c0c0c0"/><rect x="1026" y="600" width="1" height="21" fill="#c0c0c0"/><rect x="1034" y="600" width="1" height="16" fill="#c0c0c0"/><rect x="1042" y="600" width="1" height="10" fill="#c0c0c0"/><rect x="1050" y="600" width="1" height="6" fill="#c0c0c0"/><rect x="1058" y="599" width="1" height="2" fill="#c0c0c0"/><rect x="1066" y="593" width="1" height="8" fill="#c0c0c0"/><rect x="1074" y="587" width="1" height="14" fill="#c0c0c0"/><rect x="1082" y="581" width="1" height="20" fill="#c0c0c0"/><rect x="1090" y="583" width="1" height="18" fill="#c0c0c0"/><rect x="1098" y="582" width="1" height="19" fill="#c0c0c0"/><rect x="1106" y="578" width="1" height="23" fill="#c0c0c0"/><rect x="1114" y="574" width="1" height="27" fill="#c0c0c0"/></g><polyline points="2.5,583.6 10.5,584.5 18.5,585.5 26.5,587.0 34.5,588.8 42.5,590.5 50.5,591.3 58.5,591.7 66.5,590.5 74.5,589.4 82.5,586.8 90.5,583.7 98.5,580.7 106.5,579.3 114.5,579.3 122.5,580.3 130.5,583.0 138.5,587.7 146.5,593.0 154.5,598.9 162.5,604.6 170.5,610.3 178.5,614.2 186.5,616.8 194.5,617.7 202.5,617.4 210.5,616.6 218.5,615.4 226.5,613.5 234.5,611.2 242.5,608.7 250.5,606.6 258.5,605.2 266.5,605.1 274.5,605.7 282.5,606.3 290.5,607.3 298.5,609.3 306.5,612.4 314.5,616.3 322.5,620.3 330.5,623.5 338.5,625.9 346.5,627.6 354.5,628.9 362.5,629.6 370.5,629.3 378.5,627.8 386.5,626.0 394.5,623.2 402.5,620.4 410.5,617.8 418.5,615.6 426.5,613.2 434.5,610.6 442.5,608.4 450.5,606.8 458.5,605.4 466.5,604.4 474.5,603.6 482.5,603.2 490.5,602.4 498.5,601.9 506.5,601.9 514.5,601.6 522.5,601.0 530.5,600.1 538.5,598.9 546.5,597.8 554.5,595.7 562.5,593.6 570.5,591.3 578.5,588.9 586.5,586.4 594.5,584.4 602.5,582.7 610.5,582.0 618.5,582.0 626.5,583.8 634.5,587.1 642.5,591.3 650.5,596.0 658.5,601.1 666.5,606.1 674.5,611.3 682.5,616.9 690.5,621.9 698.5,626.0 706.5,629.2 714.5,631.7 722.5,633.9 730.5,636.0 738.5,637.7 746.5,639.0 754.5,640.1 762.5,641.3 770.5,642.4 778.5,643.8 786.5,645.9 794.5,648.1 802.5,649.9 810.5,652.1 818.5,654.3 826.5,655.9 834.5,656.7 842.5,656.5 850.5,655.5 858.5,653.4 866.5,651.0 874.5,648.7 882.5,645.8 890.5,642.3 898.5,638.4 906.5,634.2 914.5,630.1 922.5,626.0 930.5,621.7 938.5,617.2 946.5,612.9 954.5,609.2 962.5,606.1 970.5,604.3 978.5,604.3 986.5,605.2 994.5,607.1 1002.5,609.9 1010.5,613.1 1018.5,616.0 1026.5,618.4 1034.5,619.9 1042.5,620.2 1050.5,619.3 1058.5,617.1 1066.5,613.6 1074.5,609.2 1082.5,604.2 1090.5,599.7 1098.5,595.5 1106.5,591.4 1114.5,587.5" fill="none" stroke="#ff0000" stroke-width="1" stroke-dasharray="3 2" shape-rendering="crispEdges"/></g>
<!-- RSI -->
<g clip-path="url(#cRsi)">
<line x1="3" y1="707.5" x2="1417" y2="707.5" stroke="#c0c0c0" stroke-dasharray="3 3" shape-rendering="crispEdges"/>
<line x1="3" y1="758.5" x2="1417" y2="758.5" stroke="#c0c0c0" stroke-dasharray="3 3" shape-rendering="crispEdges"/>
<polyline points="2.5,739.0 10.5,733.2 18.5,743.3 26.5,727.9 34.5,728.1 42.5,730.0 50.5,732.0 58.5,716.7 66.5,715.7 74.5,721.3 82.5,721.4 90.5,727.6 98.5,722.3 106.5,742.7 114.5,744.5 122.5,745.5 130.5,742.8 138.5,747.5 146.5,740.3 154.5,741.9 162.5,739.8 170.5,733.9 178.5,733.1 186.5,735.5 194.5,729.4 202.5,729.1 210.5,739.3 218.5,734.8 226.5,731.1 234.5,728.5 242.5,725.4 250.5,733.6 258.5,740.8 266.5,744.7 274.5,739.6 282.5,741.1 290.5,741.6 298.5,749.2 306.5,750.3 314.5,744.9 322.5,746.5 330.5,739.2 338.5,740.8 346.5,736.0 354.5,739.4 362.5,735.6 370.5,736.0 378.5,732.7 386.5,735.4 394.5,725.9 402.5,731.8 410.5,736.6 418.5,736.6 426.5,729.3 434.5,725.6 442.5,736.6 450.5,736.8 458.5,733.1 466.5,730.5 474.5,731.1 482.5,741.8 490.5,729.7 498.5,731.5 506.5,732.6 514.5,732.9 522.5,728.5 530.5,727.3 538.5,720.0 546.5,730.6 554.5,721.9 562.5,722.5 570.5,721.9 578.5,724.3 586.5,722.6 594.5,729.2 602.5,729.1 610.5,732.6 618.5,741.0 626.5,754.3 634.5,753.3 642.5,747.6 650.5,747.0 658.5,743.7 666.5,744.8 674.5,751.0 682.5,754.2 690.5,747.5 698.5,754.2 706.5,749.0 714.5,745.0 722.5,747.9 730.5,748.6 738.5,745.5 746.5,748.2 754.5,754.7 762.5,755.9 770.5,757.5 778.5,762.2 786.5,765.2 794.5,754.0 802.5,749.1 810.5,754.8 818.5,755.6 826.5,749.2 834.5,741.0 842.5,741.3 850.5,743.3 858.5,741.6 866.5,743.3 874.5,745.7 882.5,736.3 890.5,738.8 898.5,727.9 906.5,724.2 914.5,729.7 922.5,729.5 930.5,722.2 938.5,724.9 946.5,733.6 954.5,733.7 962.5,740.8 970.5,744.6 978.5,752.7 986.5,748.8 994.5,753.1 1002.5,744.9 1010.5,743.9 1018.5,735.3 1026.5,734.0 1034.5,729.5 1042.5,725.6 1050.5,727.0 1058.5,721.9 1066.5,718.2 1074.5,715.4 1082.5,715.0 1090.5,731.3 1098.5,725.1 1106.5,718.9 1114.5,718.6" fill="none" stroke="#1e90ff" stroke-width="1" shape-rendering="crispEdges"/>
</g>
<!-- labels -->
<polygon points="5,32 12,32 8.5,28" fill="#000"/>
<text x="17.1" y="33" font-size="9.5" fill="#000" font-weight="normal" style="font-family:'DejaVu Sans',sans-serif" textLength="69.5" lengthAdjust="spacingAndGlyphs">AUDUSD-,Daily</text><text x="92.1" y="33" font-size="9.5" fill="#000" font-weight="normal" style="font-family:'DejaVu Sans',sans-serif" textLength="33.4" lengthAdjust="spacingAndGlyphs">0.70295</text><text x="127.7" y="33" font-size="9.5" fill="#000" font-weight="normal" style="font-family:'DejaVu Sans',sans-serif" textLength="33.9" lengthAdjust="spacingAndGlyphs">0.70357</text><text x="163.9" y="33" font-size="9.5" fill="#000" font-weight="normal" style="font-family:'DejaVu Sans',sans-serif" textLength="33.4" lengthAdjust="spacingAndGlyphs">0.70293</text><text x="200.0" y="33" font-size="9.5" fill="#000" font-weight="normal" style="font-family:'DejaVu Sans',sans-serif" textLength="33.4" lengthAdjust="spacingAndGlyphs">0.70317</text>
<text x="6.0" y="575" font-size="9.5" fill="#000" font-weight="normal" style="font-family:'DejaVu Sans',sans-serif" textLength="148.9" lengthAdjust="spacingAndGlyphs">MACD(12,26,9) 0.002098 0.001065</text>
<text x="5.7" y="680" font-size="9.5" fill="#000" font-weight="normal" style="font-family:'DejaVu Sans',sans-serif" textLength="69.1" lengthAdjust="spacingAndGlyphs">RSI(14) 61.8084</text>
<rect x="1418" y="30" width="2" height="1" fill="#000"/><text x="1422.9" y="34" font-size="9.5" fill="#000" font-weight="normal" style="font-family:'DejaVu Sans',sans-serif" textLength="33.5" lengthAdjust="spacingAndGlyphs">0.73115</text><rect x="1418" y="62" width="2" height="1" fill="#000"/><text x="1422.9" y="66" font-size="9.5" fill="#000" font-weight="normal" style="font-family:'DejaVu Sans',sans-serif" textLength="33.5" lengthAdjust="spacingAndGlyphs">0.72810</text><rect x="1418" y="95" width="2" height="1" fill="#000"/><text x="1422.9" y="99" font-size="9.5" fill="#000" font-weight="normal" style="font-family:'DejaVu Sans',sans-serif" textLength="33.5" lengthAdjust="spacingAndGlyphs">0.72505</text><rect x="1418" y="128" width="2" height="1" fill="#000"/><text x="1422.9" y="132" font-size="9.5" fill="#000" font-weight="normal" style="font-family:'DejaVu Sans',sans-serif" textLength="33.5" lengthAdjust="spacingAndGlyphs">0.72200</text><rect x="1418" y="161" width="2" height="1" fill="#000"/><text x="1422.9" y="165" font-size="9.5" fill="#000" font-weight="normal" style="font-family:'DejaVu Sans',sans-serif" textLength="33.5" lengthAdjust="spacingAndGlyphs">0.71890</text><rect x="1418" y="194" width="2" height="1" fill="#000"/><text x="1422.9" y="198" font-size="9.5" fill="#000" font-weight="normal" style="font-family:'DejaVu Sans',sans-serif" textLength="33.5" lengthAdjust="spacingAndGlyphs">0.71585</text><rect x="1418" y="227" width="2" height="1" fill="#000"/><text x="1422.9" y="231" font-size="9.5" fill="#000" font-weight="normal" style="font-family:'DejaVu Sans',sans-serif" textLength="33.5" lengthAdjust="spacingAndGlyphs">0.71280</text><rect x="1418" y="260" width="2" height="1" fill="#000"/><text x="1422.9" y="264" font-size="9.5" fill="#000" font-weight="normal" style="font-family:'DejaVu Sans',sans-serif" textLength="33.5" lengthAdjust="spacingAndGlyphs">0.70970</text><rect x="1418" y="293" width="2" height="1" fill="#000"/><text x="1422.9" y="297" font-size="9.5" fill="#000" font-weight="normal" style="font-family:'DejaVu Sans',sans-serif" textLength="33.5" lengthAdjust="spacingAndGlyphs">0.70665</text><rect x="1418" y="326" width="2" height="1" fill="#000"/><text x="1422.9" y="330" font-size="9.5" fill="#000" font-weight="normal" style="font-family:'DejaVu Sans',sans-serif" textLength="33.5" lengthAdjust="spacingAndGlyphs">0.70360</text><rect x="1418" y="359" width="2" height="1" fill="#000"/><text x="1422.9" y="363" font-size="9.5" fill="#000" font-weight="normal" style="font-family:'DejaVu Sans',sans-serif" textLength="33.5" lengthAdjust="spacingAndGlyphs">0.70050</text><rect x="1418" y="392" width="2" height="1" fill="#000"/><text x="1422.9" y="396" font-size="9.5" fill="#000" font-weight="normal" style="font-family:'DejaVu Sans',sans-serif" textLength="33.5" lengthAdjust="spacingAndGlyphs">0.69745</text><rect x="1418" y="425" width="2" height="1" fill="#000"/><text x="1422.9" y="429" font-size="9.5" fill="#000" font-weight="normal" style="font-family:'DejaVu Sans',sans-serif" textLength="33.5" lengthAdjust="spacingAndGlyphs">0.69440</text><rect x="1418" y="458" width="2" height="1" fill="#000"/><text x="1422.9" y="462" font-size="9.5" fill="#000" font-weight="normal" style="font-family:'DejaVu Sans',sans-serif" textLength="33.5" lengthAdjust="spacingAndGlyphs">0.69130</text><rect x="1418" y="491" width="2" height="1" fill="#000"/><text x="1422.9" y="495" font-size="9.5" fill="#000" font-weight="normal" style="font-family:'DejaVu Sans',sans-serif" textLength="33.5" lengthAdjust="spacingAndGlyphs">0.68825</text><rect x="1418" y="524" width="2" height="1" fill="#000"/><text x="1422.9" y="528" font-size="9.5" fill="#000" font-weight="normal" style="font-family:'DejaVu Sans',sans-serif" textLength="33.5" lengthAdjust="spacingAndGlyphs">0.68520</text><rect x="1418" y="557" width="2" height="1" fill="#000"/><text x="1422.9" y="561" font-size="9.5" fill="#000" font-weight="normal" style="font-family:'DejaVu Sans',sans-serif" textLength="33.5" lengthAdjust="spacingAndGlyphs">0.68210</text><rect x="1418" y="326" width="42" height="11" fill="#000"/><text x="1422.3" y="335" font-size="9.5" fill="#fff" font-weight="normal" style="font-family:'DejaVu Sans',sans-serif" textLength="34.7" lengthAdjust="spacingAndGlyphs">0.70317</text><rect x="1418" y="564" width="2" height="1" fill="#000"/><text x="1420.8" y="573" font-size="9.5" fill="#000" font-weight="normal" style="font-family:'DejaVu Sans',sans-serif" textLength="39.0" lengthAdjust="spacingAndGlyphs">0.002984</text><rect x="1418" y="600" width="2" height="1" fill="#000"/><text x="1420.8" y="604" font-size="9.5" fill="#000" font-weight="normal" style="font-family:'DejaVu Sans',sans-serif" textLength="19.1" lengthAdjust="spacingAndGlyphs">0.00</text><rect x="1418" y="664" width="2" height="1" fill="#000"/><text x="1420.8" y="663" font-size="9.5" fill="#000" font-weight="normal" style="font-family:'DejaVu Sans',sans-serif" textLength="42.8" lengthAdjust="spacingAndGlyphs">-0.005256</text><rect x="1418" y="669" width="2" height="1" fill="#000"/><text x="1420.8" y="678" font-size="9.5" fill="#000" font-weight="normal" style="font-family:'DejaVu Sans',sans-serif" textLength="16.3" lengthAdjust="spacingAndGlyphs">100</text><text x="1419.7" y="711" font-size="9.5" fill="#000" font-weight="normal" style="font-family:'DejaVu Sans',sans-serif" textLength="11.1" lengthAdjust="spacingAndGlyphs">70</text><text x="1419.7" y="762" font-size="9.5" fill="#000" font-weight="normal" style="font-family:'DejaVu Sans',sans-serif" textLength="11.1" lengthAdjust="spacingAndGlyphs">30</text><text x="1420.6" y="794" font-size="9.5" fill="#000" font-weight="normal" style="font-family:'DejaVu Sans',sans-serif" textLength="6.5" lengthAdjust="spacingAndGlyphs">0</text><rect x="1418" y="797" width="2" height="1" fill="#000"/>
<rect x="2" y="798" width="1" height="3" fill="#000"/><text x="0.8" y="810" font-size="9.5" style="font-family:'DejaVu Sans',sans-serif" textLength="51.3" lengthAdjust="spacingAndGlyphs">22 Jan 2019</text><rect x="66" y="798" width="1" height="3" fill="#000"/><text x="64.8" y="810" font-size="9.5" style="font-family:'DejaVu Sans',sans-serif" textLength="51.3" lengthAdjust="spacingAndGlyphs">31 Jan 2019</text><rect x="130" y="798" width="1" height="3" fill="#000"/><text x="128.8" y="810" font-size="9.5" style="font-family:'DejaVu Sans',sans-serif" textLength="53.2" lengthAdjust="spacingAndGlyphs">10 Feb 2019</text><rect x="194" y="798" width="1" height="3" fill="#000"/><text x="192.8" y="810" font-size="9.5" style="font-family:'DejaVu Sans',sans-serif" textLength="53.2" lengthAdjust="spacingAndGlyphs">19 Feb 2019</text><rect x="258" y="798" width="1" height="3" fill="#000"/><text x="256.8" y="810" font-size="9.5" style="font-family:'DejaVu Sans',sans-serif" textLength="53.2" lengthAdjust="spacingAndGlyphs">28 Feb 2019</text><rect x="322" y="798" width="1" height="3" fill="#000"/><text x="320.8" y="810" font-size="9.5" style="font-family:'DejaVu Sans',sans-serif" textLength="54.2" lengthAdjust="spacingAndGlyphs">10 Mar 2019</text><rect x="386" y="798" width="1" height="3" fill="#000"/><text x="384.8" y="810" font-size="9.5" style="font-family:'DejaVu Sans',sans-serif" textLength="54.2" lengthAdjust="spacingAndGlyphs">19 Mar 2019</text><rect x="450" y="798" width="1" height="3" fill="#000"/><text x="448.8" y="810" font-size="9.5" style="font-family:'DejaVu Sans',sans-serif" textLength="54.2" lengthAdjust="spacingAndGlyphs">28 Mar 2019</text><rect x="514" y="798" width="1" height="3" fill="#000"/><text x="512.8" y="810" font-size="9.5" style="font-family:'DejaVu Sans',sans-serif" textLength="47.4" lengthAdjust="spacingAndGlyphs">7 Apr 2019</text><rect x="578" y="798" width="1" height="3" fill="#000"/><text x="576.8" y="810" font-size="9.5" style="font-family:'DejaVu Sans',sans-serif" textLength="52.9" lengthAdjust="spacingAndGlyphs">16 Apr 2019</text><rect x="642" y="798" width="1" height="3" fill="#000"/><text x="640.8" y="810" font-size="9.5" style="font-family:'DejaVu Sans',sans-serif" textLength="52.9" lengthAdjust="spacingAndGlyphs">26 Apr 2019</text><rect x="706" y="798" width="1" height="3" fill="#000"/><text x="704.8" y="810" font-size="9.5" style="font-family:'DejaVu Sans',sans-serif" textLength="50.3" lengthAdjust="spacingAndGlyphs">6 May 2019</text><rect x="770" y="798" width="1" height="3" fill="#000"/><text x="768.8" y="810" font-size="9.5" style="font-family:'DejaVu Sans',sans-serif" textLength="55.8" lengthAdjust="spacingAndGlyphs">15 May 2019</text><rect x="834" y="798" width="1" height="3" fill="#000"/><text x="832.8" y="810" font-size="9.5" style="font-family:'DejaVu Sans',sans-serif" textLength="55.8" lengthAdjust="spacingAndGlyphs">24 May 2019</text><rect x="898" y="798" width="1" height="3" fill="#000"/><text x="896.8" y="810" font-size="9.5" style="font-family:'DejaVu Sans',sans-serif" textLength="46.0" lengthAdjust="spacingAndGlyphs">3 Jun 2019</text><rect x="962" y="798" width="1" height="3" fill="#000"/><text x="960.8" y="810" font-size="9.5" style="font-family:'DejaVu Sans',sans-serif" textLength="51.4" lengthAdjust="spacingAndGlyphs">12 Jun 2019</text><rect x="1026" y="798" width="1" height="3" fill="#000"/><text x="1024.8" y="810" font-size="9.5" style="font-family:'DejaVu Sans',sans-serif" textLength="51.4" lengthAdjust="spacingAndGlyphs">21 Jun 2019</text><rect x="1090" y="798" width="1" height="3" fill="#000"/><text x="1088.8" y="810" font-size="9.5" style="font-family:'DejaVu Sans',sans-serif" textLength="43.0" lengthAdjust="spacingAndGlyphs">1 Jul 2019</text>
<!-- one-click trading panel -->
<rect x="3" y="39" width="223" height="68" fill="#fff"/>
<path d="M5 41 H57 V65 H114 V105 H5 Z" fill="#0000aa"/>
<rect x="6" y="42" width="50" height="23" fill="url(#gTop)"/>
<rect x="6" y="65" width="50" height="1" fill="#3535e4"/>
<rect x="6" y="66" width="107" height="38" fill="url(#gBot)"/>
<rect x="9" y="64" width="44" height="1" fill="#000080"/><rect x="9" y="65" width="44" height="1" fill="#7878ff"/>
<path d="M172 41 H224 V105 H116 V65 H172 Z" fill="#0000aa"/>
<rect x="173" y="42" width="50" height="23" fill="url(#gTop)"/>
<rect x="173" y="65" width="50" height="1" fill="#3535e4"/>
<rect x="117" y="66" width="106" height="38" fill="url(#gBot)"/>
<rect x="176" y="64" width="44" height="1" fill="#000080"/><rect x="176" y="65" width="44" height="1" fill="#7878ff"/>
<rect x="59" y="41" width="111" height="22" fill="#a8a8ac"/>
<rect x="60" y="42" width="109" height="20" fill="#fff"/>
<rect x="80" y="42" width="1" height="20" fill="#a8a8ac"/>
<rect x="148" y="42" width="1" height="20" fill="#a8a8ac"/>
<rect x="61" y="43" width="18" height="6" fill="#efefef"/><rect x="61" y="49" width="18" height="12" fill="#d5d5d5"/>
<rect x="150" y="43" width="18" height="6" fill="#efefef"/><rect x="150" y="49" width="18" height="12" fill="#d5d5d5"/>
<polygon points="67,50 72.5,50 69.75,53" fill="#4a62c4"/>
<polygon points="156,53 161.5,53 158.75,50" fill="#4a62c4"/>
<text x="121.1" y="56" font-size="12" fill="#000" font-weight="normal" style="font-family:'DejaVu Sans',sans-serif" textLength="24.3" lengthAdjust="spacingAndGlyphs">1.00</text>
<text x="17.3" y="57" font-size="12.5" fill="#fff" font-weight="normal" style="font-family:'DejaVu Sans',sans-serif" textLength="26.9" lengthAdjust="spacingAndGlyphs">SELL</text>
<text x="185.2" y="57" font-size="12.5" fill="#fff" font-weight="normal" style="font-family:'DejaVu Sans',sans-serif" textLength="24.8" lengthAdjust="spacingAndGlyphs">BUY</text>
<text x="24.3" y="96" font-size="12" fill="#fff" font-weight="bold" style="font-family:'DejaVu Sans',sans-serif" textLength="25.2" lengthAdjust="spacingAndGlyphs">0.70</text>
<text x="51.7" y="95.5" font-size="32.4" fill="#fff" font-weight="normal" style="font-family:'DejaVu Sans',sans-serif" textLength="39.0" lengthAdjust="spacingAndGlyphs">31</text>
<text x="91.8" y="79.5" font-size="11.4" fill="#fff" font-weight="bold" style="font-family:'DejaVu Sans',sans-serif" textLength="8.9" lengthAdjust="spacingAndGlyphs">7</text>
<text x="134.7" y="96" font-size="12" fill="#fff" font-weight="bold" style="font-family:'DejaVu Sans',sans-serif" textLength="25.2" lengthAdjust="spacingAndGlyphs">0.70</text>
<text x="162.2" y="95.5" font-size="32.4" fill="#fff" font-weight="normal" style="font-family:'DejaVu Sans',sans-serif" textLength="38.8" lengthAdjust="spacingAndGlyphs">33</text>
<text x="203.0" y="79.5" font-size="11.4" fill="#fff" font-weight="bold" style="font-family:'DejaVu Sans',sans-serif" textLength="8.7" lengthAdjust="spacingAndGlyphs">5</text>
<!-- bottom tabs -->
<rect x="0" y="818" width="1460" height="1" fill="#e3e3e3"/>
<rect x="0" y="819" width="1460" height="1" fill="#ffffff"/>
<rect x="0" y="820" width="1460" height="1" fill="#000"/>
<rect x="0" y="821" width="1460" height="19" fill="#f0f0f0"/>
<rect x="111" y="820" width="108" height="19" fill="#fff"/>
<rect x="111" y="820" width="1" height="19" fill="#000"/>
<rect x="218" y="820" width="1" height="19" fill="#000"/>
<rect x="111" y="838" width="108" height="1" fill="#000"/>
<rect x="219" y="821" width="1" height="18" fill="#d8d8d8"/>
<rect x="0" y="841" width="1460" height="2" fill="#f8f8f8"/>
<rect x="0" y="843" width="1460" height="2" fill="#a0a0a0"/>
<rect x="0" y="821" width="111" height="1" fill="#fafafa"/><rect x="220" y="821" width="1240" height="1" fill="#fafafa"/>
<text x="13.5" y="835" font-size="12" fill="#6d6d6d" font-weight="normal" textLength="86.3" lengthAdjust="spacingAndGlyphs">EURUSD-,Daily</text>
<text x="120.9" y="835" font-size="12" fill="#000" font-weight="normal" textLength="88.2" lengthAdjust="spacingAndGlyphs">AUDUSD-,Daily</text>
<text x="230.5" y="835" font-size="12" fill="#6d6d6d" font-weight="normal" textLength="85.6" lengthAdjust="spacingAndGlyphs">USDCHF-,Daily</text>
<text x="338.3" y="835" font-size="12" fill="#6d6d6d" font-weight="normal" textLength="86.8" lengthAdjust="spacingAndGlyphs">USDCAD-,Daily</text>
<text x="446.5" y="835" font-size="12" fill="#6d6d6d" font-weight="normal" textLength="89.6" lengthAdjust="spacingAndGlyphs">USDCNH-,Daily</text>
<text x="557.5" y="835" font-size="12" fill="#6d6d6d" font-weight="normal" textLength="98.6" lengthAdjust="spacingAndGlyphs">EURCHF-,Weekly</text>
<text x="677.5" y="835" font-size="12" fill="#6d6d6d" font-weight="normal" textLength="76.0" lengthAdjust="spacingAndGlyphs">XAUUSD-,H1</text>
<text x="773.2" y="835" font-size="12" fill="#6d6d6d" font-weight="normal" textLength="74.7" lengthAdjust="spacingAndGlyphs">GBPUSD-,H1</text>
<text x="870.3" y="835" font-size="12" fill="#6d6d6d" font-weight="normal" textLength="58.2" lengthAdjust="spacingAndGlyphs">UKOil-,H1</text>
<g fill="#a0a0a0">
<rect x="327" y="824" width="1" height="12"/><rect x="436" y="824" width="1" height="12"/><rect x="547" y="824" width="1" height="12"/>
<rect x="667" y="824" width="1" height="12"/><rect x="763" y="824" width="1" height="12"/><rect x="860" y="824" width="1" height="12"/><rect x="940" y="824" width="1" height="12"/>
</g>
<polygon points="1436,826 1436,832 1433,829" fill="#a0a0a0"/>
<polygon points="1452,826 1452,832 1455,829" fill="#a0a0a0"/>
</svg>
</body></html>
